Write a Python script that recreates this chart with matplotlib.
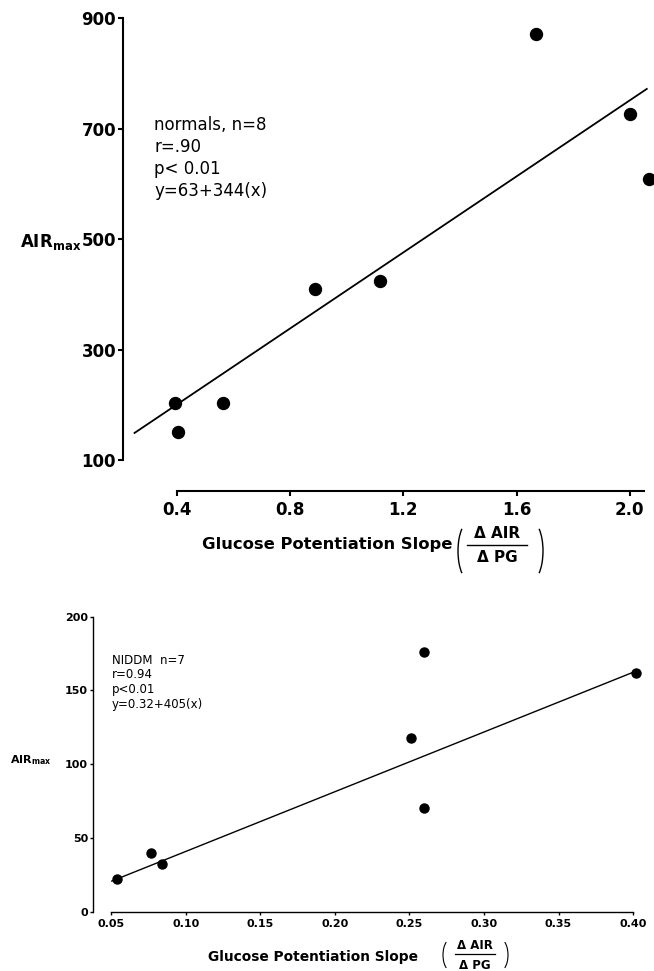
import matplotlib
matplotlib.use("Agg")
import matplotlib.pyplot as plt
from matplotlib.patches import Arc
from matplotlib.lines import Line2D

# ---------------- data ----------------
# top panel: normals
normals_x = [0.393, 0.402, 0.564, 0.889, 1.118, 1.668, 2.000, 2.068]
normals_y = [203, 151, 203, 410, 424, 871, 726, 609]
normals_intercept, normals_slope = 63, 344
normals_line_x = [0.25, 2.06]
top_xticks = [0.4, 0.8, 1.2, 1.6, 2.0]
top_xticklabels = ["0.4", "0.8", "1.2", "1.6", "2.0"]
top_yticks = [100, 300, 500, 700, 900]
top_yticklabels = ["100", "300", "500", "700", "900"]
top_notes = ["normals, n=8", "r=.90", "p< 0.01", "y=63+344(x)"]

# bottom panel: NIDDM
niddm_x = [0.0538, 0.0766, 0.0844, 0.2509, 0.2598, 0.2600, 0.4017]
niddm_y = [22, 40, 32.5, 118, 70, 176, 162]
niddm_intercept, niddm_slope = 0.32, 405
niddm_line_x = [0.0505, 0.4034]
bot_xticks = [0.05, 0.10, 0.15, 0.20, 0.25, 0.30, 0.35, 0.40]
bot_xticklabels = ["0.05", "0.10", "0.15", "0.20", "0.25", "0.30", "0.35", "0.40"]
bot_yticks = [0, 50, 100, 150, 200]
bot_yticklabels = ["0", "50", "100", "150", "200"]
bot_notes = ["NIDDM  n=7", "r=0.94", "p<0.01", "y=0.32+405(x)"]

xlabel_text = "Glucose Potentiation Slope"
frac_num = "\u0394 AIR"
frac_den = "\u0394 PG"

# ---------------- figure ----------------
W, H = 654, 971
DPI = 100
fig = plt.figure(figsize=(W / DPI, H / DPI), dpi=DPI)
fig.patch.set_facecolor("white")
plt.rcParams["mathtext.fontset"] = "dejavusans"


def fx(px):
    return px / W


def fy(py):
    return 1 - py / H


def rect(l, t, r, b):
    return [fx(l), fy(b), (r - l) / W, (b - t) / H]


def style_axes(ax, lw, xb, yb, tick_len, fs, xpad, ypad):
    for s in ("top", "right"):
        ax.spines[s].set_visible(False)
    for s in ("left", "bottom"):
        ax.spines[s].set_linewidth(lw)
        ax.spines[s].set_color("black")
    ax.spines["bottom"].set_bounds(*xb)
    ax.spines["left"].set_bounds(*yb)
    ax.tick_params(axis="both", direction="out", length=tick_len, width=lw,
                   labelsize=fs, colors="black")
    ax.tick_params(axis="x", pad=xpad)
    ax.tick_params(axis="y", pad=ypad)
    for lab in ax.get_xticklabels() + ax.get_yticklabels():
        lab.set_fontweight("bold")
    ax.set_facecolor("none")


# ---- top axes ----
ax1 = fig.add_axes(rect(123, 18, 654, 491))
ax1.set_xlim(0.2092, 2.0855)
ax1.set_ylim(43.9, 900)
ax1.plot(normals_x, normals_y, "o", color="black", markersize=8.6, clip_on=False, zorder=3)
ax1.plot(normals_line_x,
         [normals_intercept + normals_slope * v for v in normals_line_x],
         color="black", linewidth=1.3, clip_on=False)
ax1.set_xticks(top_xticks)
ax1.set_xticklabels(top_xticklabels)
ax1.set_yticks(top_yticks)
ax1.set_yticklabels(top_yticklabels)
style_axes(ax1, 1.5, (0.4, 2.05), (100, 900), 3.5, 12, 3.5, 1.5)

for i, line in enumerate(top_notes):
    fig.text(fx(154), fy(130 + 22 * i), line, fontsize=12, va="baseline",
             ha="left", color="black")

fig.text(fx(20), fy(247), r"$\mathbf{AIR}_{\mathbf{max}}$", fontsize=12,
         va="baseline", ha="left", color="black")

# top x label
fig.text(fx(202), fy(545), xlabel_text, fontsize=11.8, fontweight="bold",
         va="center", ha="left", color="black")
fig.text(fx(497), fy(533), frac_num, fontsize=11, fontweight="bold",
         va="center", ha="center", color="black")
fig.text(fx(497), fy(558), frac_den, fontsize=11, fontweight="bold",
         va="center", ha="center", color="black")
fig.add_artist(Line2D([fx(467), fx(527)], [fy(545), fy(545)], color="black",
                      linewidth=1.0, transform=fig.transFigure))
pw, ph = 24 / DPI, 60 / DPI
cy = (H - 551) / DPI
fig.add_artist(Arc((470 / DPI, cy), pw, ph, theta1=110, theta2=250,
                   transform=fig.dpi_scale_trans, color="black", linewidth=1.0))
fig.add_artist(Arc((531 / DPI, cy), pw, ph, theta1=-70, theta2=70,
                   transform=fig.dpi_scale_trans, color="black", linewidth=1.0))

# ---- bottom axes ----
ax2 = fig.add_axes(rect(93, 616.7, 654, 911.7))
ax2.set_xlim(0.0379, 0.414)
ax2.set_ylim(0, 200)
ax2.plot(niddm_x, niddm_y, "o", color="black", markersize=6.5, clip_on=False, zorder=3)
ax2.plot(niddm_line_x,
         [niddm_intercept + niddm_slope * v for v in niddm_line_x],
         color="black", linewidth=1.0, clip_on=False)
ax2.set_xticks(bot_xticks)
ax2.set_xticklabels(bot_xticklabels)
ax2.set_yticks(bot_yticks)
ax2.set_yticklabels(bot_yticklabels)
style_axes(ax2, 1.0, (0.05, 0.40), (0, 200), 2.5, 8, 3, 1)

for i, line in enumerate(bot_notes):
    fig.text(fx(112), fy(663.5 + 14.8 * i), line, fontsize=8.5, va="baseline",
             ha="left", color="black")

fig.text(fx(10), fy(763), r"$\mathbf{AIR}_{\mathbf{max}}$", fontsize=8,
         va="baseline", ha="left", color="black")

fig.text(fx(208), fy(957), xlabel_text, fontsize=9.9, fontweight="bold",
         va="center", ha="left", color="black")
fig.text(fx(475), fy(945), frac_num, fontsize=8.5, fontweight="bold",
         va="center", ha="center", color="black")
fig.text(fx(475), fy(965), frac_den, fontsize=8.5, fontweight="bold",
         va="center", ha="center", color="black")
fig.add_artist(Line2D([fx(455), fx(495)], [fy(954), fy(954)], color="black",
                      linewidth=0.9, transform=fig.transFigure))
pw2, ph2 = 16 / DPI, 32 / DPI
cy2 = (H - 955) / DPI
fig.add_artist(Arc((451 / DPI, cy2), pw2, ph2, theta1=110, theta2=250,
                   transform=fig.dpi_scale_trans, color="black", linewidth=0.8))
fig.add_artist(Arc((500 / DPI, cy2), pw2, ph2, theta1=-70, theta2=70,
                   transform=fig.dpi_scale_trans, color="black", linewidth=0.8))

fig.savefig("out.png", dpi=DPI, facecolor="white")
